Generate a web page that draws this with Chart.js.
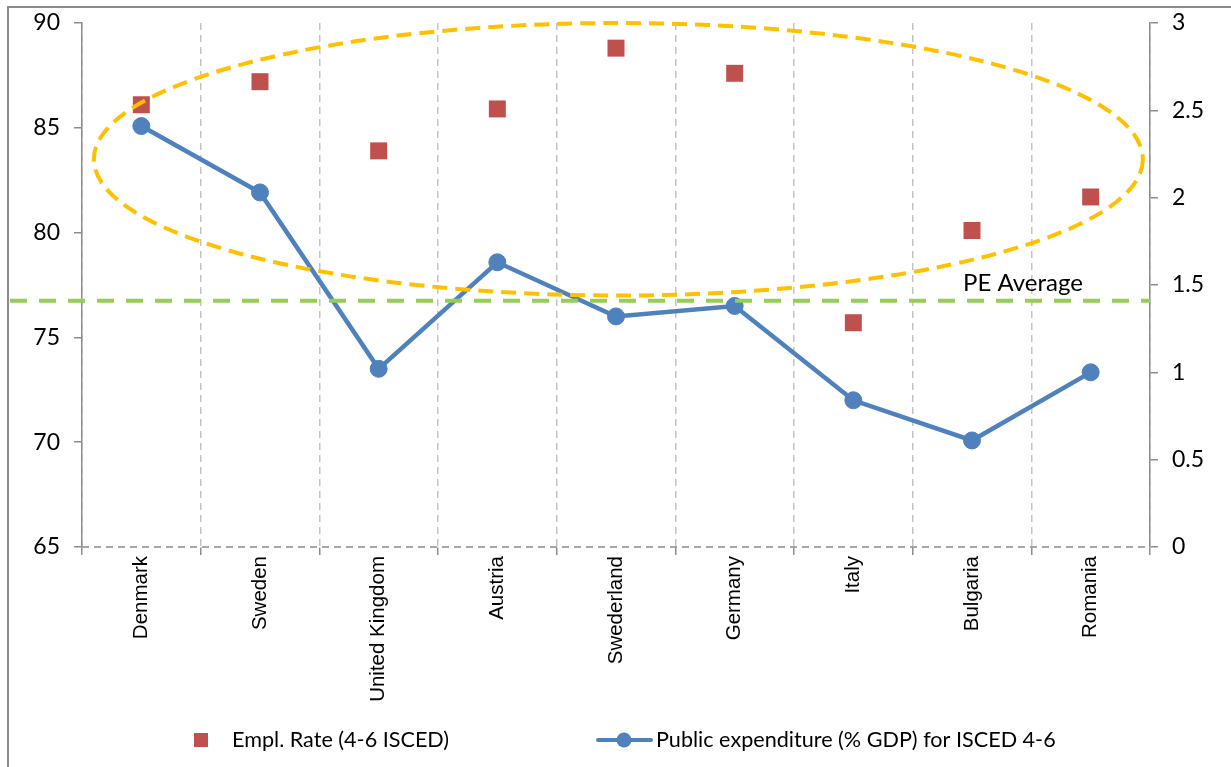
<!DOCTYPE html>
<html>
<head>
<meta charset="utf-8">
<script src="https://cdn.jsdelivr.net/npm/chart.js@4.4.1/dist/chart.umd.min.js"></script>
<style>
  html, body { margin: 0; padding: 0; background: #fff; }
  #wrap { width: 1231px; height: 767px; position: relative; }
</style>
</head>
<body>
<div id="wrap"><canvas id="chart" width="1231" height="767"></canvas></div>
<script>
// data
const countries = ["Denmark", "Sweden", "United Kingdom", "Austria", "Swederland", "Germany", "Italy", "Bulgaria", "Romania"];
const emplRate = [86.1, 87.2, 83.9, 85.9, 88.8, 87.6, 75.7, 80.1, 81.7];       // left axis
const publicExp = [2.41, 2.03, 1.02, 1.63, 1.32, 1.38, 0.84, 0.61, 1.00];     // right axis
const peAverage = 1.41;
const leftTicks = { min: 65, max: 90, step: 5 };
const rightTicks = { min: 0, max: 3, step: 0.5 };
// ellipse drawn round the upper group: [x from, x to] in category index, [y from, y to] on left axis
const ellipseX = [-0.4, 8.44];
const ellipseY = [77.0, 90.0];

const RED = "#C0504D";
const BLUE = "#4F81BD";
const ORANGE = "#FFC000";
const GREEN = "#92D050";
const AXIS = "#8C8C8C";
const calibri = "Lato, 'Open Sans', sans-serif";

// frame, dashed x axis, ellipse, average line, legend
const extras = {
  id: "extras",
  beforeDraw(chart) {
    const c = chart.ctx;
    c.save();
    c.strokeStyle = "#8C8C8C";
    c.lineWidth = 2;
    c.strokeRect(8, 7, chart.width + 20, chart.height + 20);
    c.restore();
  },
  beforeDatasetsDraw(chart) {
    const c = chart.ctx;
    const a = chart.chartArea;
    c.save();
    c.strokeStyle = AXIS;
    c.lineWidth = 1.5;
    c.setLineDash([7, 5]);
    c.beginPath();
    c.moveTo(a.left, a.bottom);
    c.lineTo(a.right, a.bottom);
    c.stroke();
    c.restore();
  },
  afterDatasetsDraw(chart) {
    const c = chart.ctx;
    const x = chart.scales.x, y = chart.scales.y, y2 = chart.scales.y2;
    c.save();
    // dashed ellipse
    const x0 = x.getPixelForValue(ellipseX[0]), x1 = x.getPixelForValue(ellipseX[1]);
    const ya = y.getPixelForValue(ellipseY[1]), yb = y.getPixelForValue(ellipseY[0]);
    c.beginPath();
    c.ellipse((x0 + x1) / 2, (ya + yb) / 2, (x1 - x0) / 2, (yb - ya) / 2, 0, 0, Math.PI * 2);
    c.strokeStyle = ORANGE;
    c.lineWidth = 4;
    c.setLineDash([15, 8]);
    c.stroke();

    // PE average line
    const py = y2.getPixelForValue(peAverage);
    c.beginPath();
    c.moveTo(10, py);
    c.lineTo(chart.chartArea.right, py);
    c.strokeStyle = GREEN;
    c.lineWidth = 4;
    c.setLineDash([17, 12]);
    c.stroke();
    c.setLineDash([]);
    c.fillStyle = "#000";
    c.font = "24px " + calibri;
    c.textAlign = "center";
    c.textBaseline = "middle";
    c.fillText("PE Average", x.getPixelForValue(7.43), py - 17);
    c.restore();
  },
  afterDraw(chart) {
    const c = chart.ctx;
    const ly = 740;
    c.save();
    c.fillStyle = RED;
    c.fillRect(194, ly - 7, 14, 14);
    c.fillStyle = "#000";
    c.font = "21.6px " + calibri;
    c.textAlign = "left";
    c.textBaseline = "middle";
    c.fillText(chart.data.datasets[0].label, 232, ly);

    c.strokeStyle = BLUE;
    c.lineWidth = 4;
    c.lineCap = "round";
    c.beginPath();
    c.moveTo(598, ly);
    c.lineTo(651, ly);
    c.stroke();
    c.beginPath();
    c.arc(624, ly, 7.5, 0, Math.PI * 2);
    c.fillStyle = BLUE;
    c.fill();
    c.fillStyle = "#000";
    c.fillText(chart.data.datasets[1].label, 656, ly);
    c.restore();
  }
};

// keep the y axes from pushing the plot down
function fitY(w) {
  return function (s) {
    s.width = w;
    s.paddingTop = 0;
    s.paddingBottom = 0;
  };
}

new Chart(document.getElementById("chart"), {
  type: "line",
  data: {
    labels: countries,
    datasets: [
      {
        label: "Empl. Rate (4-6 ISCED)",
        data: emplRate,
        yAxisID: "y",
        showLine: false,
        pointStyle: "rect",
        pointRadius: 12,
        pointBackgroundColor: RED,
        pointBorderColor: RED,
        pointBorderWidth: 0,
        order: 2
      },
      {
        label: "Public expenditure (% GDP) for ISCED 4-6",
        data: publicExp,
        yAxisID: "y2",
        borderColor: BLUE,
        borderWidth: 4.5,
        pointStyle: "circle",
        pointRadius: 8.5,
        pointBackgroundColor: BLUE,
        pointBorderColor: BLUE,
        pointBorderWidth: 1,
        tension: 0,
        order: 1
      }
    ]
  },
  options: {
    responsive: false,
    animation: false,
    layout: { padding: { top: 23, left: 0, right: 0, bottom: 0 } },
    plugins: { legend: { display: false }, tooltip: { enabled: false } },
    scales: {
      x: {
        offset: true,
        afterFit(s) { s.height = 220; },
        grid: {
          offset: true,
          color: "#C4C4C4",
          lineWidth: 1.5,
          tickLength: 8,
          tickColor: AXIS,
          tickBorderDash: []
        },
        border: { color: "rgba(0,0,0,0)", width: 1.5, dash: [7, 5] },
        ticks: {
          color: "#000",
          font: { family: "'Liberation Sans', Arial, sans-serif", size: 20.5 },
          minRotation: 90,
          maxRotation: 90,
          padding: 1,
          autoSkip: false
        }
      },
      y: {
        position: "left",
        min: leftTicks.min,
        max: leftTicks.max,
        afterFit: fitY(82),
        grid: { drawOnChartArea: false, tickLength: 8, color: AXIS, lineWidth: 1.5 },
        border: { color: AXIS, width: 1.5 },
        ticks: {
          stepSize: leftTicks.step,
          color: "#000",
          padding: 14,
          font: { family: calibri, size: 23 }
        }
      },
      y2: {
        position: "right",
        min: rightTicks.min,
        max: rightTicks.max,
        afterFit: fitY(81),
        grid: { drawOnChartArea: false, tickLength: 8, color: AXIS, lineWidth: 1.5 },
        border: { color: AXIS, width: 1.5 },
        ticks: {
          stepSize: rightTicks.step,
          color: "#000",
          padding: 14,
          font: { family: calibri, size: 23 },
          callback: v => String(v)
        }
      }
    }
  },
  plugins: [extras]
});
</script>
</body>
</html>
